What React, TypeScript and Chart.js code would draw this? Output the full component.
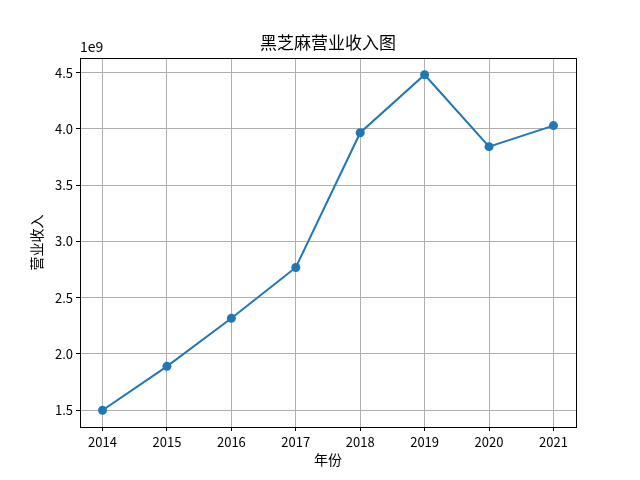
import React, { useEffect, useRef } from "react";
import { Chart, registerables } from "chart.js";

Chart.register(...registerables);

const years = [2014, 2015, 2016, 2017, 2018, 2019, 2020, 2021];
const revenue = [1.5e9, 1.89e9, 2.317e9, 2.769e9, 3.967e9, 4.482e9, 3.843e9, 4.03e9];
const yTicks = [1.5e9, 2.0e9, 2.5e9, 3.0e9, 3.5e9, 4.0e9, 4.5e9];
const titleText = "黑芝麻营业收入图";
const xLabel = "年份";
const yLabel = "营业收入";
const offsetText = "1e9";

const FONT = "'Noto Sans CJK SC', 'DejaVu Sans', sans-serif";

const framePlugin = {
  id: "frame",
  afterDraw(chart: any) {
    const { ctx, chartArea } = chart;
    ctx.save();
    ctx.strokeStyle = "#000";
    ctx.lineWidth = 1;
    ctx.strokeRect(
      Math.round(chartArea.left) + 0.5,
      Math.round(chartArea.top) + 0.5,
      Math.round(chartArea.right - chartArea.left),
      Math.round(chartArea.bottom - chartArea.top)
    );
    ctx.fillStyle = "#000";
    ctx.font = `17px ${FONT}`;
    ctx.textAlign = "center";
    ctx.textBaseline = "alphabetic";
    ctx.fillText(titleText, (chartArea.left + chartArea.right) / 2, chartArea.top - 9);
    ctx.font = `14px ${FONT}`;
    ctx.textAlign = "left";
    ctx.fillText(offsetText, chartArea.left, chartArea.top - 6);
    // axis titles
    ctx.textAlign = "center";
    ctx.textBaseline = "middle";
    ctx.fillText(xLabel, (chartArea.left + chartArea.right) / 2, chartArea.bottom + 33);
    ctx.translate(chartArea.left - 43, (chartArea.top + chartArea.bottom) / 2);
    ctx.rotate(-Math.PI / 2);
    ctx.fillText(yLabel, 0, 0);
    ctx.restore();
  },
};

export default function App() {
  const ref = useRef<HTMLCanvasElement>(null);
  useEffect(() => {
    if (!ref.current) return;
    const chart = new Chart(ref.current, {
      type: "line",
      data: {
        datasets: [
          {
            data: years.map((y, i) => ({ x: y, y: revenue[i] })),
            borderColor: "#1f77b4",
            backgroundColor: "#1f77b4",
            borderWidth: 2,
            pointRadius: 4.5,
            pointHoverRadius: 4.5,
            pointBorderWidth: 0,
            tension: 0,
          },
        ],
      },
      plugins: [framePlugin],
      options: {
        animation: false,
        responsive: false,
        devicePixelRatio: 1,
        layout: { padding: { top: 58, right: 64, left: 0, bottom: 0 } },
        plugins: { legend: { display: false }, tooltip: { enabled: false }, title: { display: false } },
        scales: {
          x: {
            type: "linear",
            min: 2013.65,
            max: 2021.35,
            afterBuildTicks: (s: any) => {
              s.ticks = years.map((v) => ({ value: v }));
            },
            afterFit: (s: any) => {
              s.height = 53;
            },
            ticks: {
              color: "#000",
              font: { family: FONT, size: 13 },
              padding: 3,
              maxRotation: 0,
              callback: (v: any) => String(v),
            },
            grid: { color: "#b0b0b0", lineWidth: 1, tickColor: "#000", tickLength: 4 },
            border: { display: false },
          },
          y: {
            type: "linear",
            min: 1.351e9,
            max: 4.631e9,
            afterBuildTicks: (s: any) => {
              s.ticks = yTicks.map((v) => ({ value: v }));
            },
            afterFit: (s: any) => {
              s.width = 80;
            },
            ticks: {
              color: "#000",
              font: { family: FONT, size: 13 },
              padding: 3,
              callback: (v: any) => (Number(v) / 1e9).toFixed(1),
            },
            grid: { color: "#b0b0b0", lineWidth: 1, tickColor: "#000", tickLength: 4 },
            border: { display: false },
          },
        },
      },
    });
    return () => chart.destroy();
  }, []);
  return (
    <div style={{ position: "fixed", left: 0, top: 0, width: 640, height: 480, background: "#fff" }}>
      <canvas ref={ref} width={640} height={480} style={{ width: 640, height: 480 }} />
    </div>
  );
}
